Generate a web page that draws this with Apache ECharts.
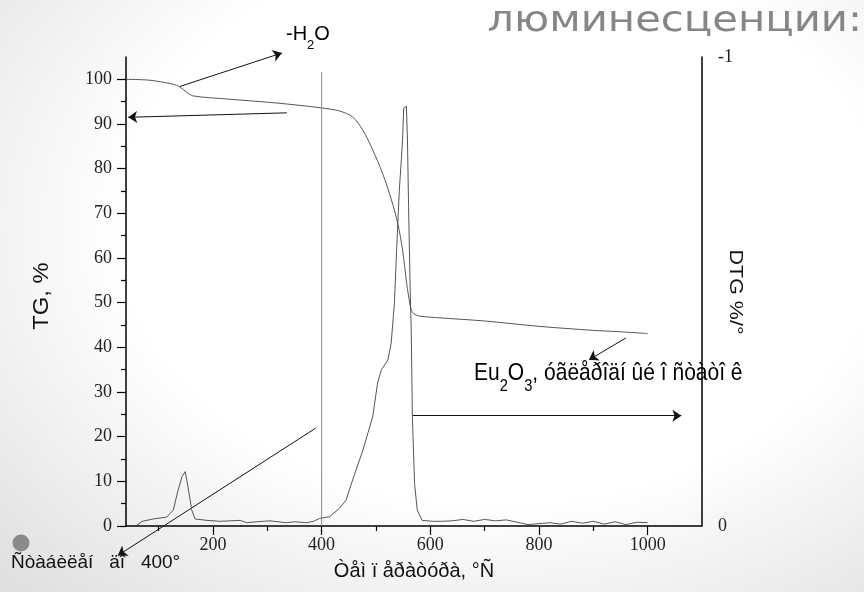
<!DOCTYPE html>
<html>
<head>
<meta charset="utf-8">
<script src="https://cdn.jsdelivr.net/npm/echarts@6/dist/echarts.min.js"></script>
<style>
html, body { margin: 0; padding: 0; }
body {
    width: 864px; height: 592px; overflow: hidden;
    background: radial-gradient(ellipse 80% 85% at 58% 38%, #ffffff 55%, #e0e0e0 100%);
}
#chart { width: 864px; height: 592px; }
</style>
</head>
<body>
<div id="chart"></div>
<script>
// TG curve, % (left axis)
const tgTemp = [40, 84, 127, 139, 152, 163, 225, 317, 400, 433, 457, 476, 494, 512, 528, 540, 549, 556, 560, 565, 570, 580, 617, 700, 800, 900, 947, 1000];
const tgValue = [100, 99.8, 98.9, 98.3, 97.1, 96.3, 95.6, 94.7, 93.6, 92.9, 91.6, 88.6, 84.2, 79.0, 73.2, 67.8, 61.8, 54.8, 51.5, 48.3, 47.5, 47.0, 46.6, 45.9, 44.7, 43.8, 43.5, 43.1];

// DTG curve, %/° (right axis, 0 at bottom, -1 at top)
const dtgTemp = [60, 70, 90, 115, 127, 136, 143, 149, 154, 161, 167, 189, 213, 250, 262, 280, 305, 335, 350, 372, 385, 396,
    415, 433, 445, 457, 476, 494, 503, 510, 522, 528, 532, 534, 538, 543, 549, 551, 556, 558, 560, 563, 565, 567, 571, 576, 585,
    604, 620, 640, 660, 680, 700, 720, 740, 760, 780, 800, 820, 840, 860, 880, 900, 920, 940, 960, 980, 1000];
const dtgValue = [-0.002, -0.010, -0.015, -0.019, -0.034, -0.077, -0.105, -0.116, -0.084, -0.034, -0.015, -0.012, -0.010, -0.012, -0.007, -0.009, -0.011, -0.007, -0.009, -0.007, -0.010, -0.016,
    -0.020, -0.038, -0.055, -0.098, -0.162, -0.233, -0.305, -0.333, -0.354, -0.390, -0.447, -0.476, -0.589, -0.716, -0.823, -0.891, -0.895, -0.823, -0.681, -0.503, -0.410, -0.233, -0.091, -0.034, -0.012,
    -0.010, -0.010, -0.011, -0.014, -0.010, -0.014, -0.011, -0.013, -0.008, -0.003, -0.005, -0.007, -0.004, -0.010, -0.006, -0.010, -0.004, -0.009, -0.003, -0.008, -0.007];

const xLabelTicks = [200, 400, 600, 800, 1000];
const xMinorTicks = [100, 300, 500, 700, 900];
const yLabelTicks = [0, 10, 20, 30, 40, 50, 60, 70, 80, 90, 100];
const yMinorTicks = [5, 15, 25, 35, 45, 55, 65, 75, 85, 95];

// vertical marker at 400 °C
const markerTemp = 400;
const markerTop = 101.6;

// annotation arrows [from, to] in (temperature, TG %) units
const arrowLines = [
    [[139, 98.4], [327, 105.9]],
    [[336, 92.5], [44, 91.5]],
    [[389, 21.9], [25, -6.6]],
    [[960, 42.1], [892, 37.2]],
    [[567, 24.7], [1062, 24.7]]
];

const chart = echarts.init(document.getElementById('chart'));

const serif = 'Liberation Serif';
const sans = 'Liberation Sans';

const option = {
    backgroundColor: 'transparent',
    animation: false,
    grid: { left: 126, right: 162, top: 57, bottom: 66, containLabel: false },
    xAxis: [
        {
            type: 'value', min: 40, max: 1100,
            name: 'Òåì ï åðàòóðà, °Ñ', nameLocation: 'middle', nameGap: 35,
            nameTextStyle: { fontFamily: sans, fontSize: 20, color: '#111' },
            axisLine: { lineStyle: { color: '#000', width: 1.5 } },
            axisTick: { customValues: xLabelTicks, length: 9, lineStyle: { color: '#000', width: 1.2 } },
            axisLabel: { customValues: xLabelTicks, margin: 10, fontFamily: serif, fontSize: 18, color: '#222', formatter: v => String(v) },
            splitLine: { show: false }
        },
        {
            type: 'value', min: 40, max: 1100, position: 'bottom',
            axisLine: { show: false },
            axisTick: { customValues: xMinorTicks, length: 5, lineStyle: { color: '#000', width: 1.2 } },
            axisLabel: { show: false },
            splitLine: { show: false }
        }
    ],
    yAxis: [
        {
            type: 'value', min: 0, max: 105, position: 'left',
            axisLine: { show: true, lineStyle: { color: '#000', width: 1.5 } },
            axisTick: { show: true, customValues: yLabelTicks, length: 9, lineStyle: { color: '#000', width: 1.2 } },
            axisLabel: { customValues: yLabelTicks, margin: 14, fontFamily: serif, fontSize: 18, color: '#222' },
            splitLine: { show: false }
        },
        {
            type: 'value', min: -1, max: 0, interval: 1, inverse: true, position: 'right',
            axisLine: { show: true, lineStyle: { color: '#000', width: 1.5 } },
            axisTick: { show: false },
            axisLabel: { margin: 16, fontFamily: serif, fontSize: 18, color: '#222' },
            splitLine: { show: false }
        },
        {
            type: 'value', min: 0, max: 105, position: 'left',
            axisLine: { show: false },
            axisTick: { show: true, customValues: yMinorTicks, length: 5, lineStyle: { color: '#000', width: 1.2 } },
            axisLabel: { show: false },
            splitLine: { show: false }
        }
    ],
    series: [
        {
            name: 'TG', type: 'line', xAxisIndex: 0, yAxisIndex: 0,
            data: tgTemp.map((t, i) => [t, tgValue[i]]),
            showSymbol: false, smooth: 0.3,
            lineStyle: { color: '#555', width: 1 }
        },
        {
            name: 'DTG', type: 'line', xAxisIndex: 0, yAxisIndex: 1,
            data: dtgTemp.map((t, i) => [t, dtgValue[i]]),
            showSymbol: false,
            lineStyle: { color: '#555', width: 1 }
        },
        {
            name: 'marker', type: 'line', xAxisIndex: 0, yAxisIndex: 0,
            data: [[markerTemp, 0], [markerTemp, markerTop]],
            showSymbol: false, silent: true,
            lineStyle: { color: '#888', width: 1 }
        },
        {
            name: 'arrows', type: 'lines', coordinateSystem: 'cartesian2d',
            xAxisIndex: 0, yAxisIndex: 0, clip: false, silent: true,
            symbol: ['none', 'arrow'], symbolSize: [5, 9],
            lineStyle: { color: '#111', width: 1, opacity: 1, curveness: 0 },
            data: arrowLines.map(a => ({ coords: a }))
        }
    ],
    graphic: [
        {
            type: 'text', x: 862, y: 22, scaleX: 1.16,
            style: { text: 'люминесценции:', align: 'right', verticalAlign: 'middle', fontFamily: 'DejaVu Sans', fontSize: 36, fill: '#868686' }
        },
        {
            type: 'text', x: 42, y: 296, rotation: Math.PI / 2, scaleX: 1.08,
            style: { text: 'TG, %', align: 'center', verticalAlign: 'middle', fontFamily: sans, fontSize: 22, fill: '#111' }
        },
        {
            type: 'text', x: 735, y: 292, rotation: -Math.PI / 2, scaleX: 1.13,
            style: { text: 'DTG %/°', align: 'center', verticalAlign: 'middle', fontFamily: sans, fontSize: 19, fill: '#111' }
        },
        {
            type: 'text', x: 286, y: 24,
            style: {
                text: '{a|-H}{s|2}{a|O}', align: 'left', verticalAlign: 'top',
                rich: {
                    a: { fontFamily: sans, fontSize: 20, lineHeight: 23, verticalAlign: 'top', fill: '#000' },
                    s: { fontFamily: sans, fontSize: 13, lineHeight: 13, padding: [15, 0, 0, 0], verticalAlign: 'top', fill: '#000' }
                }
            }
        },
        {
            type: 'text', x: 474, y: 361, scaleX: 1.05, scaleY: 1.22,
            style: {
                text: '{a|Eu}{s|2}{a|O}{s|3}{a|, óãëåðîäí ûé î ñòàòî ê}', align: 'left', verticalAlign: 'top',
                rich: {
                    a: { fontFamily: sans, fontSize: 20, lineHeight: 24, verticalAlign: 'top', fill: '#000' },
                    s: { fontFamily: sans, fontSize: 14, lineHeight: 14, padding: [14, 0, 0, 0], verticalAlign: 'top', fill: '#000' }
                }
            }
        },
        {
            type: 'circle', shape: { cx: 21, cy: 543, r: 8.5 },
            style: { fill: '#8a8a8a' }
        },
        {
            type: 'text', x: 11, y: 553,
            style: { text: 'Ñòàáèëåí   äî   400°', align: 'left', verticalAlign: 'top', fontFamily: sans, fontSize: 19, fill: '#111' }
        }
    ]
};

chart.setOption(option);
</script>
</body>
</html>
